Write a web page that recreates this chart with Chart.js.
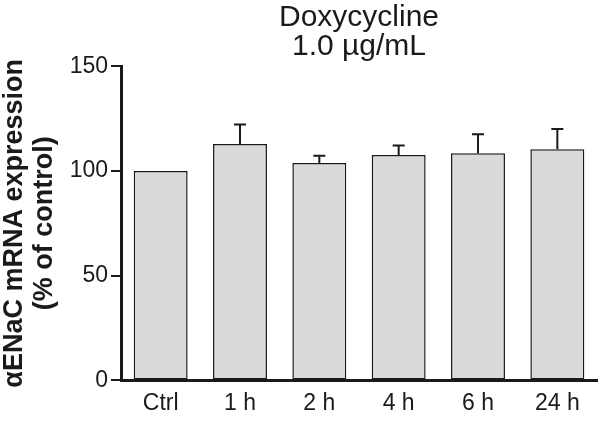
<!DOCTYPE html>
<html>
<head>
<meta charset="utf-8">
<script src="https://cdn.jsdelivr.net/npm/chart.js@4/dist/chart.umd.min.js"></script>
<style>
  html, body { margin: 0; padding: 0; background: #fff; }
</style>
</head>
<body>
<canvas id="barChart" width="600" height="426"></canvas>
<script>
// data
const labels = ["Ctrl", "1 h", "2 h", "4 h", "6 h", "24 h"];
const expression = [100, 112.8, 103.8, 107.6, 108.5, 110.4];
const sem = [0, 9.4, 3.4, 4.6, 9.0, 9.6];
const yTicks = [0, 50, 100, 150];

const FONT = "'Liberation Sans', Arial, Helvetica, sans-serif";

// upper-only error bars with a small cap
const errorBars = {
  id: "errorBars",
  afterDatasetsDraw(chart) {
    const ctx = chart.ctx;
    const meta = chart.getDatasetMeta(0);
    const y = chart.scales.y;
    ctx.save();
    ctx.strokeStyle = "#1a1a1a";
    ctx.lineWidth = 2;
    meta.data.forEach((bar, i) => {
      if (!sem[i]) return;
      const top = y.getPixelForValue(expression[i] + sem[i]);
      ctx.beginPath();
      ctx.moveTo(bar.x, bar.y);
      ctx.lineTo(bar.x, top);
      ctx.moveTo(bar.x - 6, top);
      ctx.lineTo(bar.x + 6, top);
      ctx.stroke();
    });
    ctx.restore();
  }
};

new Chart(document.getElementById("barChart"), {
  type: "bar",
  data: {
    labels: labels,
    datasets: [{
      data: expression,
      backgroundColor: "#d9dadc",
      borderColor: "#1a1a1a",
      borderWidth: 1.5,
      borderSkipped: false,
      categoryPercentage: 1,
      barPercentage: 0.68
    }]
  },
  options: {
    responsive: false,
    animation: false,
    layout: { padding: { top: 0, right: 3, bottom: 0, left: 0 } },
    plugins: {
      legend: { display: false },
      tooltip: { enabled: false },
      title: {
        display: true,
        fullSize: false,
        text: ["Doxycycline", "1.0 µg/mL"],
        color: "#1a1a1a",
        font: { family: FONT, size: 30, weight: "normal", lineHeight: 0.97 },
        padding: { top: 3, bottom: 5 }
      }
    },
    scales: {
      x: {
        grid: { display: false, drawTicks: false },
        border: { color: "#1a1a1a", width: 3 },
        ticks: {
          color: "#1a1a1a",
          padding: 9,
          font: { family: FONT, size: 23 }
        }
      },
      y: {
        min: 0,
        max: 150,
        afterBuildTicks(scale) {
          scale.ticks = yTicks.map(v => ({ value: v }));
        },
        afterFit(scale) {
          scale.width = 121;
        },
        grid: {
          display: true,
          drawOnChartArea: false,
          drawTicks: true,
          tickLength: 10,
          tickColor: "#1a1a1a",
          lineWidth: 2
        },
        border: { color: "#1a1a1a", width: 3 },
        ticks: {
          color: "#1a1a1a",
          padding: 3,
          font: { family: FONT, size: 23 }
        },
        title: {
          display: true,
          text: ["αENaC mRNA expression", "(% of control)"],
          color: "#1a1a1a",
          font: { family: FONT, size: 27, weight: "bold", lineHeight: 1.1 },
          padding: { top: 0, bottom: 0 }
        }
      }
    }
  },
  plugins: [errorBars]
});
</script>
</body>
</html>
